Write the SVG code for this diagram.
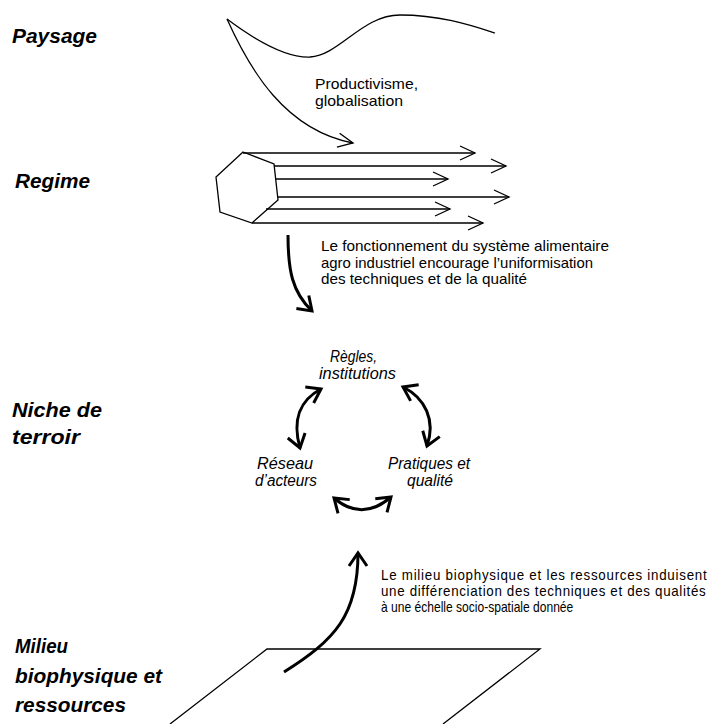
<svg xmlns="http://www.w3.org/2000/svg" width="708" height="724" viewBox="0 0 708 724">
<defs>
<marker id="ah" markerUnits="userSpaceOnUse" markerWidth="20" markerHeight="20" refX="0" refY="0" orient="auto-start-reverse" overflow="visible"><path d="M-15,-7 L0,0 L-15,7" fill="none" stroke="#000" stroke-width="1.3"/></marker>
<marker id="ahb" markerUnits="userSpaceOnUse" markerWidth="20" markerHeight="20" refX="0" refY="0" orient="auto-start-reverse" overflow="visible"><path d="M-13,-9 L0,0 L-13,9" fill="none" stroke="#000" stroke-width="3"/></marker>
</defs>
<style>
.lbl{font-family:"Liberation Sans",Arial,sans-serif;font-weight:bold;font-style:italic;font-size:21px;fill:#000}
.t{font-family:"Liberation Sans",Arial,sans-serif;font-size:15px;fill:#000}
.tb{font-family:"Liberation Sans",Arial,sans-serif;font-size:14.5px;fill:#000}
.ti{font-family:"Liberation Sans",Arial,sans-serif;font-size:16px;font-style:italic;fill:#000}
.thin{fill:none;stroke:#000;stroke-width:1.3}
.thick{fill:none;stroke:#000;stroke-width:3}
</style>
<rect width="708" height="724" fill="#fff"/>

<g id="label-paysage"><text class="lbl" x="12" y="43" textLength="85" lengthAdjust="spacingAndGlyphs">Paysage</text></g>
<g id="label-regime"><text class="lbl" x="15" y="188" textLength="75" lengthAdjust="spacingAndGlyphs">Regime</text></g>
<g id="label-niche"><text class="lbl" x="12" y="417" textLength="90" lengthAdjust="spacingAndGlyphs">Niche de</text><text class="lbl" x="12" y="444" textLength="68" lengthAdjust="spacingAndGlyphs">terroir</text></g>
<g id="label-milieu"><text class="lbl" x="15" y="653" textLength="53" lengthAdjust="spacingAndGlyphs">Milieu</text><text class="lbl" x="15" y="683" textLength="147" lengthAdjust="spacingAndGlyphs">biophysique et</text><text class="lbl" x="15" y="712" textLength="111" lengthAdjust="spacingAndGlyphs">ressources</text></g>

<g id="paysage">
<path class="thin" d="M227,19 C255,40 285,58 310,57 C340,55 362,15 400,15 C440,15 470,25 495,33"/>
<text class="t" x="315" y="89" textLength="103" lengthAdjust="spacingAndGlyphs">Productivisme,</text>
<text class="t" x="315" y="106" textLength="88" lengthAdjust="spacingAndGlyphs">globalisation</text>
</g>

<g id="regime">
<polygon class="thin" points="243,152 274,164 278,200 252,223 220,212 216,177"/>
</g>

<g id="text-regime">
<text class="t" x="321" y="251" textLength="288" lengthAdjust="spacingAndGlyphs">Le fonctionnement du système alimentaire</text>
<text class="t" x="321" y="267.5" textLength="272" lengthAdjust="spacingAndGlyphs">agro industriel encourage l’uniformisation</text>
<text class="t" x="321" y="284" textLength="206" lengthAdjust="spacingAndGlyphs">des techniques et de la qualité</text>
</g>

<g id="regles"><text class="ti" x="330" y="361.5" textLength="47" lengthAdjust="spacingAndGlyphs">Règles,</text><text class="ti" x="319" y="379" textLength="77" lengthAdjust="spacingAndGlyphs">institutions</text></g>
<g id="reseau"><text class="ti" x="257" y="469" textLength="56" lengthAdjust="spacingAndGlyphs">Réseau</text><text class="ti" x="255" y="486" textLength="62" lengthAdjust="spacingAndGlyphs">d’acteurs</text></g>
<g id="pratiques"><text class="ti" x="388" y="469" textLength="82" lengthAdjust="spacingAndGlyphs">Pratiques et</text><text class="ti" x="407" y="486" textLength="46" lengthAdjust="spacingAndGlyphs">qualité</text></g>

<g id="milieu">
<polyline class="thin" points="170,724 267,649 540,649 443,724"/>
</g>

<g id="text-milieu">
<text class="tb" transform="translate(381,580) scale(0.92,1)" x="0" y="0" textLength="354" lengthAdjust="spacing">Le milieu biophysique et les ressources induisent</text>
<text class="tb" transform="translate(381,596) scale(0.92,1)" x="0" y="0" textLength="353" lengthAdjust="spacing">une différenciation des techniques et des qualités</text>
<text class="tb" transform="translate(381,612) scale(0.92,1)" x="0" y="0" textLength="209" lengthAdjust="spacingAndGlyphs">à une échelle socio-spatiale donnée</text>
</g>

<g id="connectors">
<path class="thin" d="M227,19 C250,70 285,130 353,143" marker-end="url(#ah)"/>
<line class="thin" x1="243" y1="153" x2="475" y2="153" marker-end="url(#ah)"/>
<line class="thin" x1="274" y1="166" x2="506" y2="166" marker-end="url(#ah)"/>
<line class="thin" x1="276" y1="179" x2="448" y2="179" marker-end="url(#ah)"/>
<line class="thin" x1="278" y1="197" x2="509" y2="197" marker-end="url(#ah)"/>
<line class="thin" x1="266" y1="209" x2="450" y2="209" marker-end="url(#ah)"/>
<line class="thin" x1="252" y1="223" x2="483" y2="223" marker-end="url(#ah)"/>
<path class="thick" d="M288,235 C288,270 292,292 312,311" marker-end="url(#ahb)"/>
<path class="thick" d="M321,389 C300,400 292,420 300,448" marker-start="url(#ahb)" marker-end="url(#ahb)"/>
<path class="thick" d="M403,387 C425,398 436,420 427,446" marker-start="url(#ahb)" marker-end="url(#ahb)"/>
<path class="thick" d="M334,498 Q362,522 391,497" marker-start="url(#ahb)" marker-end="url(#ahb)"/>
<path class="thick" d="M284,672 C335,640 358,615 358,553" marker-end="url(#ahb)"/>
</g>
</svg>
